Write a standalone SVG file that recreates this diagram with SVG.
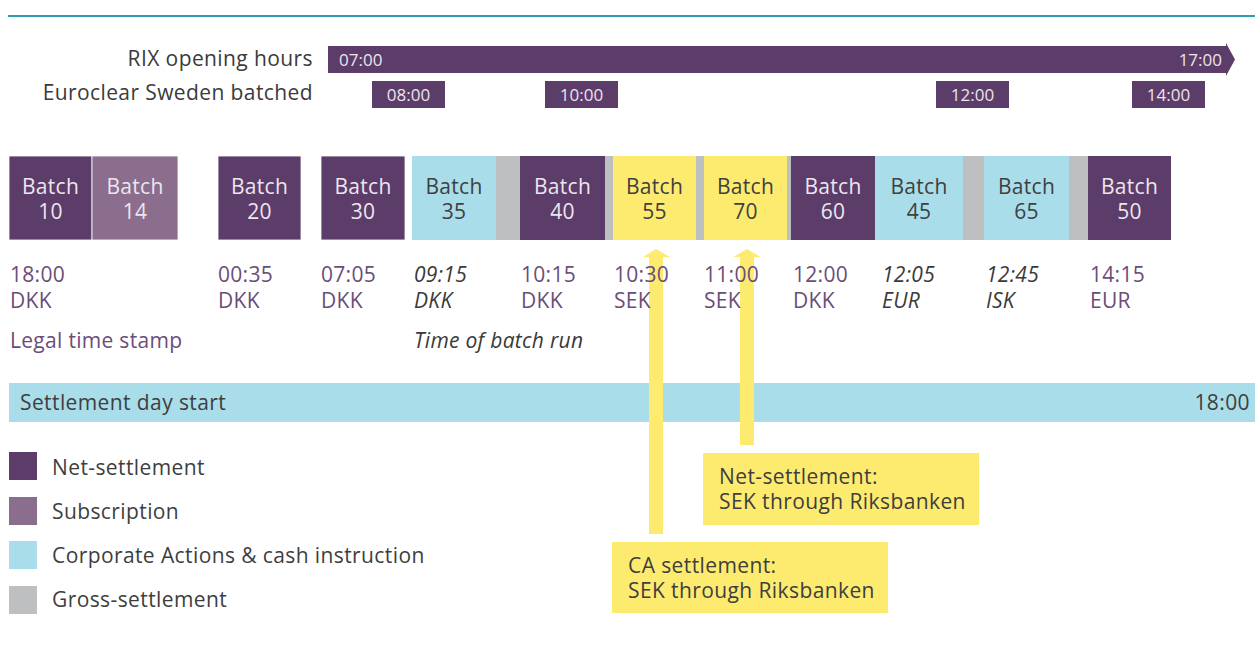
<svg xmlns="http://www.w3.org/2000/svg" width="1255" height="646" viewBox="0 0 1255 646">
  <style>
    text { font-family: "Open Sans", "Liberation Sans", sans-serif; }
    .hdr { font-size: 21px; fill: #3b3b3b; letter-spacing: 0.4px; }
    .tag { font-size: 17px; fill: #ece4ee; }
    .net { fill: #5c3c69; }
    .sub { fill: #8b6d8d; }
    .ca { fill: #a9dde9; }
    .gross { fill: #bebfc1; }
    .sek { fill: #fdeb70; }
    .box { stroke: #ffffff; stroke-width: 0.8; }
    .bl { font-size: 21px; text-anchor: middle; letter-spacing: 0.3px; }
    .on-dark { fill: #ede5ef; }
    .on-light { fill: #404040; }
    .time { font-size: 21px; fill: #6a4d79; letter-spacing: 0.3px; }
    .time.it { font-style: italic; fill: #3a3a3a; }
    .note { font-size: 21px; fill: #3e3e3e; letter-spacing: 0.4px; }
    .arrow { fill: #fdeb70; }
  </style>

  <!-- top rule -->
  <line x1="8" y1="16" x2="1255" y2="16" stroke="#2e9cb3" stroke-width="2"/>

  <!-- RIX opening hours bar -->
  <g id="rix-hours">
    <text class="hdr" x="313" y="66" text-anchor="end">RIX opening hours</text>
    <path class="net" d="M328,46 H1226 V43 L1235,59.5 L1226,76 V73 H328 Z"/>
    <text class="tag" x="339" y="66">07:00</text>
    <text class="tag" x="1222" y="66" text-anchor="end">17:00</text>
  </g>

  <!-- Euroclear Sweden batch slots -->
  <g id="es-batched">
    <text class="hdr" x="313" y="100" text-anchor="end">Euroclear Sweden batched</text>
    <rect class="net" x="372" y="81" width="73" height="27"/>
    <text class="tag" x="408.5" y="100.5" text-anchor="middle">08:00</text>
    <rect class="net" x="545" y="81" width="73" height="27"/>
    <text class="tag" x="581.5" y="100.5" text-anchor="middle">10:00</text>
    <rect class="net" x="936" y="81" width="73" height="27"/>
    <text class="tag" x="972.5" y="100.5" text-anchor="middle">12:00</text>
    <rect class="net" x="1132" y="81" width="73" height="27"/>
    <text class="tag" x="1168.5" y="100.5" text-anchor="middle">14:00</text>
  </g>

  <!-- settlement day band -->
  <g id="settlement-day">
    <rect class="ca" x="9" y="383" width="1246" height="39"/>
    <text class="note" x="20" y="410">Settlement day start</text>
    <text class="note" x="1250" y="410" text-anchor="end">18:00</text>
  </g>

  <!-- gross-settlement gaps between batches -->
  <g id="gross-gaps">
    <rect class="gross" x="496" y="156" width="24" height="84"/>
    <rect class="gross" x="605" y="156" width="8" height="84"/>
    <rect class="gross" x="696" y="156" width="8" height="84"/>
    <rect class="gross" x="787" y="156" width="4" height="84"/>
    <rect class="gross" x="963" y="156" width="21" height="84"/>
    <rect class="gross" x="1069" y="156" width="19" height="84"/>
  </g>

  <!-- connectors: callout arrows -->
  <g id="connectors">
    <path class="arrow" d="M649,534 V257 H643 L656,249 L670,257 H663 V534 Z"/>
    <path class="arrow" d="M740,445 V257 H733.5 L747,249 L760.5,257 H754 V445 Z"/>
  </g>

  <!-- batches: box, two-line label, run time and currency -->
  <g id="batch-10">
    <rect class="box net" x="9" y="156" width="83" height="84"/>
    <text class="bl on-dark"><tspan x="50.5" y="194">Batch</tspan><tspan x="50.5" y="219">10</tspan></text>
    <text class="time"><tspan x="10" y="282">18:00</tspan><tspan x="10" y="308">DKK</tspan></text>
  </g>
  <g id="batch-14">
    <rect class="box sub" x="92" y="156" width="86" height="84"/>
    <text class="bl on-dark"><tspan x="135" y="194">Batch</tspan><tspan x="135" y="219">14</tspan></text>
  </g>
  <g id="batch-20">
    <rect class="box net" x="218" y="156" width="83" height="84"/>
    <text class="bl on-dark"><tspan x="259.5" y="194">Batch</tspan><tspan x="259.5" y="219">20</tspan></text>
    <text class="time"><tspan x="218" y="282">00:35</tspan><tspan x="218" y="308">DKK</tspan></text>
  </g>
  <g id="batch-30">
    <rect class="box net" x="321" y="156" width="84" height="84"/>
    <text class="bl on-dark"><tspan x="363" y="194">Batch</tspan><tspan x="363" y="219">30</tspan></text>
    <text class="time"><tspan x="321" y="282">07:05</tspan><tspan x="321" y="308">DKK</tspan></text>
  </g>
  <g id="batch-35">
    <rect class="ca" x="412" y="156" width="84" height="84"/>
    <text class="bl on-light"><tspan x="454" y="194">Batch</tspan><tspan x="454" y="219">35</tspan></text>
    <text class="time it"><tspan x="414" y="282">09:15</tspan><tspan x="414" y="308">DKK</tspan></text>
  </g>
  <g id="batch-40">
    <rect class="net" x="520" y="156" width="85" height="84"/>
    <text class="bl on-dark"><tspan x="562.5" y="194">Batch</tspan><tspan x="562.5" y="219">40</tspan></text>
    <text class="time"><tspan x="521" y="282">10:15</tspan><tspan x="521" y="308">DKK</tspan></text>
  </g>
  <g id="batch-55">
    <rect class="sek" x="613" y="156" width="83" height="84"/>
    <text class="bl on-light"><tspan x="654.5" y="194">Batch</tspan><tspan x="654.5" y="219">55</tspan></text>
    <text class="time"><tspan x="614" y="282">10:30</tspan><tspan x="614" y="308">SEK</tspan></text>
  </g>
  <g id="batch-70">
    <rect class="sek" x="704" y="156" width="83" height="84"/>
    <text class="bl on-light"><tspan x="745.5" y="194">Batch</tspan><tspan x="745.5" y="219">70</tspan></text>
    <text class="time"><tspan x="704" y="282">11:00</tspan><tspan x="704" y="308">SEK</tspan></text>
  </g>
  <g id="batch-60">
    <rect class="net" x="791" y="156" width="84" height="84"/>
    <text class="bl on-dark"><tspan x="833" y="194">Batch</tspan><tspan x="833" y="219">60</tspan></text>
    <text class="time"><tspan x="793" y="282">12:00</tspan><tspan x="793" y="308">DKK</tspan></text>
  </g>
  <g id="batch-45">
    <rect class="ca" x="875" y="156" width="88" height="84"/>
    <text class="bl on-light"><tspan x="919" y="194">Batch</tspan><tspan x="919" y="219">45</tspan></text>
    <text class="time it"><tspan x="882" y="282">12:05</tspan><tspan x="882" y="308">EUR</tspan></text>
  </g>
  <g id="batch-65">
    <rect class="ca" x="984" y="156" width="85" height="84"/>
    <text class="bl on-light"><tspan x="1026.5" y="194">Batch</tspan><tspan x="1026.5" y="219">65</tspan></text>
    <text class="time it"><tspan x="986" y="282">12:45</tspan><tspan x="986" y="308">ISK</tspan></text>
  </g>
  <g id="batch-50">
    <rect class="net" x="1088" y="156" width="83" height="84"/>
    <text class="bl on-dark"><tspan x="1129.5" y="194">Batch</tspan><tspan x="1129.5" y="219">50</tspan></text>
    <text class="time"><tspan x="1090" y="282">14:15</tspan><tspan x="1090" y="308">EUR</tspan></text>
  </g>

  <!-- row captions -->
  <text class="time" x="10" y="348">Legal time stamp</text>
  <text class="time it" x="414" y="348">Time of batch run</text>

  <!-- callouts -->
  <g id="callout-net">
    <rect class="sek" x="703" y="453" width="276" height="72"/>
    <text class="note"><tspan x="719" y="484">Net-settlement:</tspan><tspan x="719" y="509">SEK through Riksbanken</tspan></text>
  </g>
  <g id="callout-ca">
    <rect class="sek" x="612" y="542" width="276" height="71"/>
    <text class="note"><tspan x="628" y="573">CA settlement:</tspan><tspan x="628" y="598">SEK through Riksbanken</tspan></text>
  </g>

  <!-- legend -->
  <g id="legend">
    <rect class="net" x="9" y="452" width="28" height="28"/>
    <text class="note" x="52" y="475">Net-settlement</text>
    <rect class="sub" x="9" y="497" width="28" height="28"/>
    <text class="note" x="52" y="519">Subscription</text>
    <rect class="ca" x="9" y="541" width="28" height="28"/>
    <text class="note" x="52" y="563">Corporate Actions &amp; cash instruction</text>
    <rect class="gross" x="9" y="586" width="28" height="28"/>
    <text class="note" x="52" y="607">Gross-settlement</text>
  </g>
</svg>
